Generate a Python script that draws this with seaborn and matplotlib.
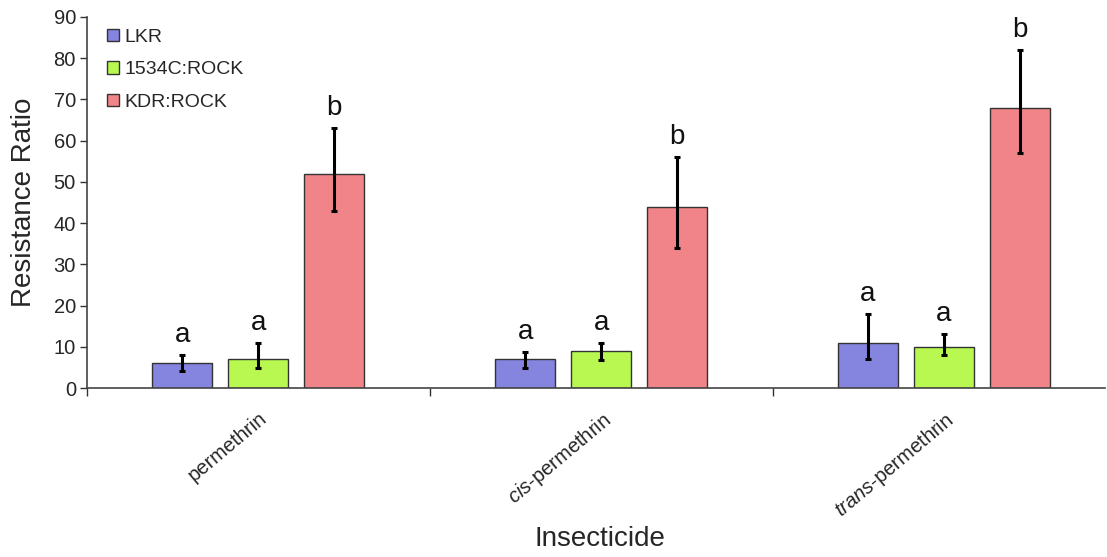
import matplotlib
matplotlib.use("Agg")
import matplotlib.pyplot as plt
import seaborn as sns
import pandas as pd
import numpy as np
from matplotlib.patches import Patch

insecticides = ["permethrin", "cis-permethrin", "trans-permethrin"]
tick_labels = ["permethrin", r"$\it{cis}$-permethrin", r"$\it{trans}$-permethrin"]
strains = ["LKR", "1534C:ROCK", "KDR:ROCK"]
lkr = [6, 7, 11]
c1534 = [7, 9, 10]
kdr = [52, 44, 68]
lkr_lo = [4.2, 4.8, 7.0]
lkr_hi = [8.0, 8.8, 18.0]
c1534_lo = [4.8, 6.8, 8.0]
c1534_hi = [11.0, 11.0, 13.0]
kdr_lo = [43, 34, 57]
kdr_hi = [63, 56, 82]
letters_lkr = ["a", "a", "a"]
letters_1534 = ["a", "a", "a"]
letters_kdr = ["b", "b", "b"]
colors = ["#8585E0", "#B8F850", "#F08488"]

sns.set_style("white")
plt.rcParams["font.family"] = ["Liberation Sans", "DejaVu Sans"]
plt.rcParams["mathtext.fontset"] = "custom"
plt.rcParams["mathtext.it"] = "Liberation Sans:italic"
plt.rcParams["mathtext.rm"] = "Liberation Sans"

vals = [lkr, c1534, kdr]
df = pd.DataFrame({
    "Insecticide": [ins for s in strains for ins in insecticides],
    "Strain": [s for s in strains for _ in insecticides],
    "Ratio": [v for series in vals for v in series],
})

fig = plt.figure(figsize=(11.07, 5.57), dpi=100)
ax = fig.add_axes([87 / 1107, 1 - 388 / 557, (1105 - 87) / 1107, (388 - 17) / 557])

sns.barplot(data=df, x="Insecticide", y="Ratio", hue="Strain", order=insecticides,
            hue_order=strains, palette=colors, saturation=1, width=0.665, gap=0.21,
            edgecolor="#333333", linewidth=1.0, errorbar=None, ax=ax, legend=False)

los = [lkr_lo, c1534_lo, kdr_lo]
his = [lkr_hi, c1534_hi, kdr_hi]
lets = [letters_lkr, letters_1534, letters_kdr]
bar_containers = list(ax.containers)
for k, cont in enumerate(bar_containers):
    for i, p in enumerate(cont.patches):
        xc = p.get_x() + p.get_width() / 2
        y = vals[k][i]
        ax.errorbar([xc], [y], yerr=[[y - los[k][i]], [his[k][i] - y]], fmt="none",
                    ecolor="black", elinewidth=2.2, capsize=2.3, capthick=2.2, zorder=5)
        ax.annotate(lets[k][i], (xc, his[k][i]), xytext=(0, 5), textcoords="offset points",
                    ha="center", va="bottom", fontsize=20, color="#111111")

ax.set_ylim(0, 90)
ax.set_xlim(-0.5, 2.47)
ax.set_yticks(np.arange(0, 91, 10))
ax.tick_params(axis="y", labelsize=14.5, length=5, width=1, color="#333333", direction="out", left=True, pad=3)
ax.set_xticks(range(3))
ax.set_xticklabels(tick_labels, rotation=40, ha="right", rotation_mode="anchor", fontsize=14.5)
ax.tick_params(axis="x", which="major", length=0, pad=15)
ax.set_xticks([-0.5, 0.5, 1.5], minor=True)
ax.tick_params(axis="x", which="minor", length=6, width=1, color="#333333", direction="out", bottom=True)

for s in ["top", "right"]:
    ax.spines[s].set_visible(False)
for s in ["left", "bottom"]:
    ax.spines[s].set_color("#444444")
    ax.spines[s].set_linewidth(1.2)

ax.set_ylabel("Resistance Ratio", fontsize=20)
ax.set_xlabel("Insecticide", fontsize=20)
ax.yaxis.set_label_coords(-0.049, 0.5)
ax.xaxis.set_label_coords((600 - 87) / 1018, -(539 - 388) / 371)
ax.xaxis.label.set_va("center")

handles = [Patch(facecolor=c, edgecolor="#333333", linewidth=1) for c in colors]
ax.legend(handles, strains, loc="upper left", bbox_to_anchor=(0.008, 1.0), borderaxespad=0,
          frameon=False, fontsize=14, handlelength=0.62, handleheight=0.62,
          handletextpad=0.3, labelspacing=0.79, borderpad=0.6)

fig.savefig("out.png", dpi=100)
